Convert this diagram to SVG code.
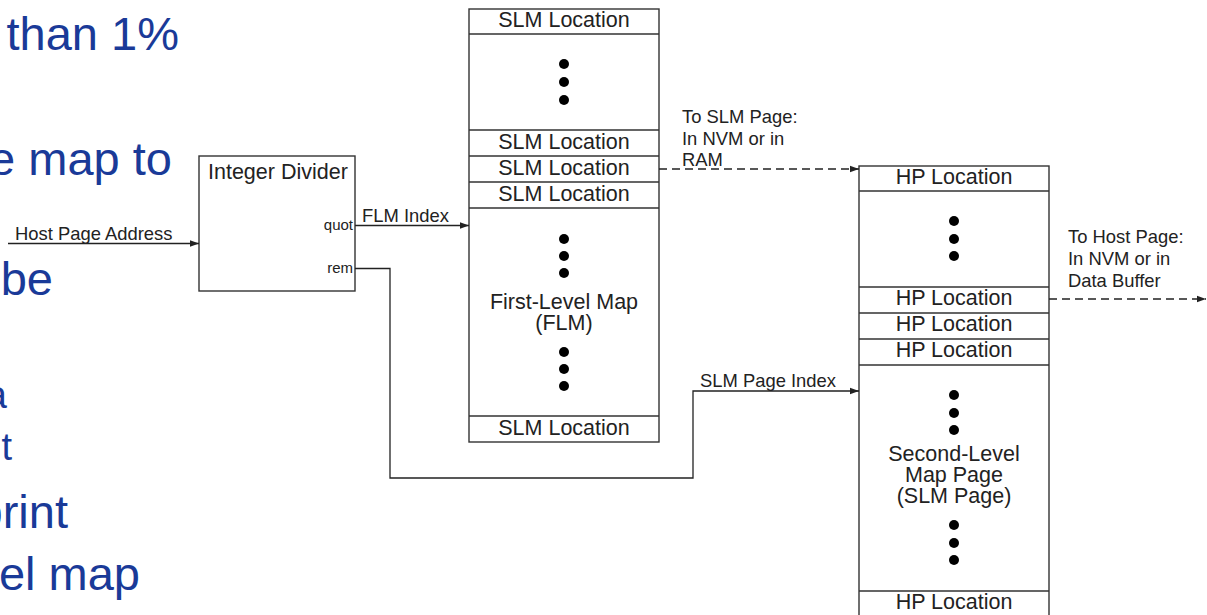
<svg xmlns="http://www.w3.org/2000/svg" width="1207" height="615" viewBox="0 0 1207 615">
<defs>
<marker id="arr" markerWidth="10" markerHeight="8" refX="9" refY="4" orient="auto" markerUnits="userSpaceOnUse">
<path d="M0,0.8 L9,4 L0,7.2 Z" fill="#222"/>
</marker>
<style>
.bg{font-family:"Liberation Sans",Arial,sans-serif;fill:#1a3a98;font-size:47px}
.sub{font-size:38px}
.box{fill:#fff;stroke:#333;stroke-width:1.4}
.row{fill:none;stroke:#333;stroke-width:1.4}
.t{font-family:"Liberation Sans",Arial,sans-serif;fill:#222;font-size:21.5px;text-anchor:middle}
.s{font-family:"Liberation Sans",Arial,sans-serif;fill:#222;font-size:18.4px}
.q{font-family:"Liberation Sans",Arial,sans-serif;fill:#222;font-size:15px;text-anchor:end}
.dot{fill:#000}
.ln{fill:none;stroke:#222;stroke-width:1.3}
.dash{fill:none;stroke:#222;stroke-width:1.3;stroke-dasharray:8,5}
</style>
</defs>
<rect width="1207" height="615" fill="#fff"/>
<g id="background-text">
<text class="bg" x="179" y="50" text-anchor="end">than 1%</text>
<text class="bg" x="172" y="175" text-anchor="end">e map to</text>
<text class="bg" x="53" y="295" text-anchor="end">be</text>
<text class="bg sub" x="7" y="408" text-anchor="end">a</text>
<text class="bg sub" x="12" y="460" text-anchor="end">t</text>
<text class="bg" x="68" y="528" text-anchor="end">print</text>
<text class="bg" x="140" y="590" text-anchor="end">vel map</text>
</g>
<g id="divider">
<rect class="box" x="199" y="156" width="156" height="135"/>
<text class="t" x="208" y="179" style="text-anchor:start">Integer Divider</text>
<text class="q" x="353" y="230">quot</text>
<text class="q" x="353" y="273">rem</text>
</g>
<g id="flm">
<rect class="box" x="469" y="9" width="190" height="433"/>
<path class="row" d="M469,34H659M469,130H659M469,156H659M469,182H659M469,208H659M469,416H659"/>
<text class="t" x="564" y="27">SLM Location</text>
<text class="t" x="564" y="149">SLM Location</text>
<text class="t" x="564" y="175">SLM Location</text>
<text class="t" x="564" y="201">SLM Location</text>
<text class="t" x="564" y="435">SLM Location</text>
<circle class="dot" cx="564" cy="64" r="5"/><circle class="dot" cx="564" cy="82" r="5"/><circle class="dot" cx="564" cy="100" r="5"/>
<circle class="dot" cx="564" cy="239" r="5"/><circle class="dot" cx="564" cy="256" r="5"/><circle class="dot" cx="564" cy="273" r="5"/>
<text class="t" x="564" y="309">First-Level Map<tspan x="564" dy="21">(FLM)</tspan></text>
<circle class="dot" cx="564" cy="352" r="5"/><circle class="dot" cx="564" cy="369" r="5"/><circle class="dot" cx="564" cy="386" r="5"/>
</g>
<g id="slm-page">
<rect class="box" x="859" y="166" width="190" height="455"/>
<path class="row" d="M859,191H1049M859,287H1049M859,313H1049M859,339H1049M859,365H1049M859,591H1049"/>
<text class="t" x="954" y="184">HP Location</text>
<text class="t" x="954" y="305">HP Location</text>
<text class="t" x="954" y="331">HP Location</text>
<text class="t" x="954" y="357">HP Location</text>
<text class="t" x="954" y="609">HP Location</text>
<circle class="dot" cx="954" cy="221" r="5"/><circle class="dot" cx="954" cy="239" r="5"/><circle class="dot" cx="954" cy="256" r="5"/>
<circle class="dot" cx="954" cy="395" r="5"/><circle class="dot" cx="954" cy="413" r="5"/><circle class="dot" cx="954" cy="430" r="5"/>
<text class="t" x="954" y="461">Second-Level<tspan x="954" dy="21">Map Page</tspan><tspan x="954" dy="21">(SLM Page)</tspan></text>
<circle class="dot" cx="954" cy="525" r="5"/><circle class="dot" cx="954" cy="543" r="5"/><circle class="dot" cx="954" cy="560" r="5"/>
</g>
<g id="connectors">
<path class="ln" d="M8,243.5H199" marker-end="url(#arr)"/>
<text class="s" x="15" y="240">Host Page Address</text>
<path class="ln" d="M355,225.5H469" marker-end="url(#arr)"/>
<text class="s" x="362" y="222">FLM Index</text>
<path class="ln" d="M355,268.5H390V478H693V391H859" marker-end="url(#arr)"/>
<text class="s" x="700" y="387">SLM Page Index</text>
<path class="dash" d="M659,169H859" marker-end="url(#arr)"/>
<text class="s" x="682" y="123">To SLM Page:<tspan x="682" dy="22">In NVM or in</tspan><tspan x="682" dy="21">RAM</tspan></text>
<path class="dash" d="M1049,299H1206" marker-end="url(#arr)"/>
<text class="s" x="1068" y="243">To Host Page:<tspan x="1068" dy="22">In NVM or in</tspan><tspan x="1068" dy="22">Data Buffer</tspan></text>
</g>
</svg>
